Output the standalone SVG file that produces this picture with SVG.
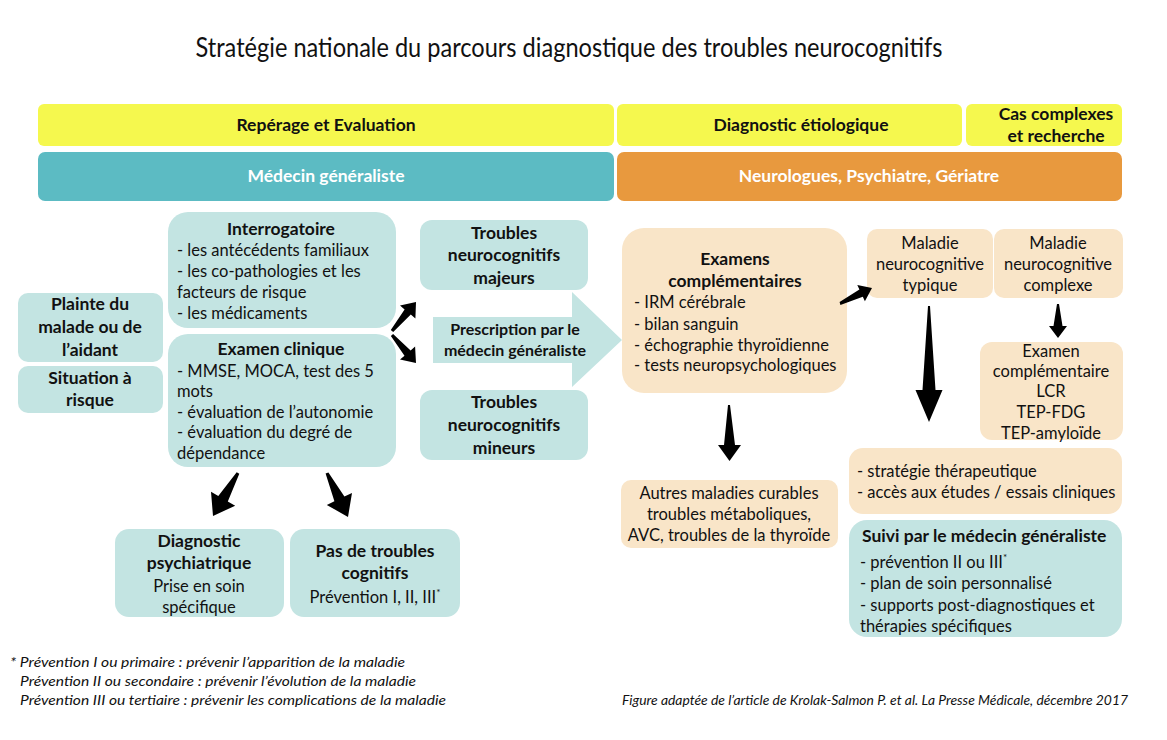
<svg xmlns="http://www.w3.org/2000/svg" width="1167" height="740" viewBox="0 0 1167 740">
<style>
.yl{fill:#f5f84e}
.tl{fill:#5cbbc3}
.or{fill:#e8993e}
.lt{fill:#c3e4e2}
.pe{fill:#f9e5c8}
text{font-family:Lato,"Open Sans","DejaVu Sans",sans-serif;fill:#111}
.b{font-weight:bold;font-size:17.5px}
.r{font-size:16.5px}
.c{text-anchor:middle}
.w{fill:#ffffff;font-weight:bold;font-size:17.5px;text-anchor:middle}
.ft{font-style:italic;font-size:13px}
.arr{fill:#000}
</style>
<rect width="1167" height="740" fill="#ffffff"/>
<text x="569" y="57" font-size="26" text-anchor="middle" textLength="747" lengthAdjust="spacingAndGlyphs">Stratégie nationale du parcours diagnostique des troubles neurocognitifs</text>

<g id="hdr-reperage"><rect class="yl" x="38" y="104" width="576" height="42" rx="6"/><text class="b c" x="326" y="131">Repérage et Evaluation</text></g>
<g id="hdr-diag"><rect class="yl" x="617" y="104" width="345" height="42" rx="6"/><text class="b c" x="801" y="131">Diagnostic étiologique</text></g>
<g id="hdr-cas"><rect class="yl" x="966" y="104" width="156" height="42" rx="6"/><text class="b c" x="1056" y="120">Cas complexes</text><text class="b c" x="1056" y="142">et recherche</text></g>
<g id="hdr-mg"><rect class="tl" x="38" y="152" width="576" height="49" rx="7"/><text class="w" x="326" y="182">Médecin généraliste</text></g>
<g id="hdr-neuro"><rect class="or" x="617" y="152" width="505" height="49" rx="7"/><text class="w" x="869" y="182">Neurologues, Psychiatre, Gériatre</text></g>

<g id="plainte"><rect class="lt" x="18" y="293" width="145" height="69" rx="10"/><text class="b c" x="90" y="310">Plainte du</text><text class="b c" x="90" y="333">malade ou de</text><text class="b c" x="90" y="356">l’aidant</text></g>
<g id="situation"><rect class="lt" x="18" y="366" width="145" height="47" rx="10"/><text class="b c" x="90" y="384">Situation à</text><text class="b c" x="90" y="406">risque</text></g>

<g id="interrogatoire"><rect class="lt" x="168" y="212" width="228" height="116" rx="20"/><text class="b c" x="281" y="235">Interrogatoire</text><text class="r" x="177" y="256">- les antécédents familiaux</text><text class="r" x="177" y="277">- les co-pathologies et les</text><text class="r" x="177" y="298">facteurs de risque</text><text class="r" x="177" y="319">- les médicaments</text></g>
<g id="examen-clinique"><rect class="lt" x="168" y="334" width="228" height="133" rx="20"/><text class="b c" x="281" y="355">Examen clinique</text><text class="r" x="177" y="377">- MMSE, MOCA, test des 5</text><text class="r" x="177" y="397">mots</text><text class="r" x="177" y="418">- évaluation de l’autonomie</text><text class="r" x="177" y="438">- évaluation du degré de</text><text class="r" x="177" y="459">dépendance</text></g>

<g id="tnc-majeurs"><rect class="lt" x="420" y="220" width="168" height="70" rx="12"/><text class="b c" x="504" y="239">Troubles</text><text class="b c" x="504" y="261">neurocognitifs</text><text class="b c" x="504" y="284">majeurs</text></g>
<g id="prescription"><path class="lt" d="M433,317 L572,317 L572,292 L622,340 L572,387 L572,363 L433,363 Z"/><text class="b c" x="515" y="335" style="font-size:16px">Prescription par le</text><text class="b c" x="515" y="356" style="font-size:16px">médecin généraliste</text></g>
<g id="tnc-mineurs"><rect class="lt" x="420" y="390" width="168" height="70" rx="12"/><text class="b c" x="504" y="408">Troubles</text><text class="b c" x="504" y="431">neurocognitifs</text><text class="b c" x="504" y="454">mineurs</text></g>

<g id="examens"><rect class="pe" x="622" y="228" width="225" height="165" rx="22"/><text class="b c" x="735" y="265">Examens</text><text class="b c" x="735" y="287">complémentaires</text><text class="r" x="634" y="308">- IRM cérébrale</text><text class="r" x="634" y="330">- bilan sanguin</text><text class="r" x="634" y="351">- échographie thyroïdienne</text><text class="r" x="634" y="371">- tests neuropsychologiques</text></g>

<g id="typique"><rect class="pe" x="867" y="229" width="126" height="69" rx="10"/><text class="r c" x="930" y="249">Maladie</text><text class="r c" x="930" y="270">neurocognitive</text><text class="r c" x="930" y="291">typique</text></g>
<g id="complexe"><rect class="pe" x="994" y="229" width="129" height="69" rx="10"/><text class="r c" x="1058" y="249">Maladie</text><text class="r c" x="1058" y="270">neurocognitive</text><text class="r c" x="1058" y="291">complexe</text></g>
<g id="examen-comp"><rect class="pe" x="980" y="342" width="143" height="98" rx="12"/><text class="r c" x="1051" y="357">Examen</text><text class="r c" x="1051" y="377">complémentaire</text><text class="r c" x="1051" y="397">LCR</text><text class="r c" x="1051" y="418">TEP-FDG</text><text class="r c" x="1051" y="439">TEP-amyloïde</text></g>

<g id="autres"><rect class="pe" x="621" y="480" width="217" height="68" rx="10"/><text class="r c" x="729" y="499">Autres maladies curables</text><text class="r c" x="729" y="520">troubles métaboliques,</text><text class="r c" x="729" y="541">AVC, troubles de la thyroïde</text></g>
<g id="strategie"><rect class="pe" x="849" y="448" width="273" height="66" rx="14"/><text class="r" x="857" y="477">- stratégie thérapeutique</text><text class="r" x="857" y="498">- accès aux études / essais cliniques</text></g>
<g id="suivi"><rect class="lt" x="849" y="520" width="273" height="117" rx="18"/><text class="b" x="862" y="542">Suivi par le médecin généraliste</text><text class="r" x="860" y="568">- prévention II ou III<tspan dy="-7" font-size="10">*</tspan></text><text class="r" x="860" y="589">- plan de soin personnalisé</text><text class="r" x="860" y="611">- supports post-diagnostiques et</text><text class="r" x="860" y="632">thérapies spécifiques</text></g>

<g id="diag-psy"><rect class="lt" x="115" y="529" width="169" height="88" rx="14"/><text class="b c" x="199" y="547">Diagnostic</text><text class="b c" x="199" y="569">psychiatrique</text><text class="r c" x="199" y="592">Prise en soin</text><text class="r c" x="199" y="613">spécifique</text></g>
<g id="pas-troubles"><rect class="lt" x="290" y="529" width="170" height="88" rx="14"/><text class="b c" x="375" y="557">Pas de troubles</text><text class="b c" x="375" y="579">cognitifs</text><text class="r c" x="375" y="603">Prévention I, II, III<tspan dy="-7" font-size="10">*</tspan></text></g>

<g id="connectors">
<path class="arr" d="M393.2,332 L410.8,314.6 L415.4,318.4 L416,302 L400,305.6 L404.6,309.4 L390.8,330 Z"/>
<path class="arr" d="M393.1,334 L410.6,350.5 L415.1,346.6 L416,363 L400,359.6 L404.5,355.7 L390.9,336 Z"/>
<path class="arr" d="M239.3,473.8 L227.8,501.5 L235.2,505.7 L213,516 L211,491.7 L218.3,495.9 L236.7,472.2 Z"/>
<path class="arr" d="M328.4,472.4 L344.4,496.6 L352,492.9 L348,517 L326.8,504.9 L334.4,501.3 L325.6,473.6 Z"/>
<path class="arr" d="M840.4,304.9 L862.8,296.7 L864.9,301.3 L872,288 L857.3,284.9 L859.4,289.5 L839.6,302.1 Z"/>
<path class="arr" d="M928,306 L930,306 L935.5,390 L942.5,390 L929,422 L915.5,390 L922.5,390 Z"/>
<path class="arr" d="M728,405 L730,405 L735,445 L741,445 L729.5,461 L718,445 L724,445 Z"/>
<path class="arr" d="M1057,304 L1059,304 L1062.5,326 L1067,326 L1058,338 L1049,326 L1053.5,326 Z"/>
</g>

<g id="footer">
<text class="ft" x="10" y="667" textLength="395" lengthAdjust="spacingAndGlyphs">* Prévention I ou primaire : prévenir l’apparition de la maladie</text>
<text class="ft" x="20" y="686" textLength="396" lengthAdjust="spacingAndGlyphs">Prévention II ou secondaire : prévenir l’évolution de la maladie</text>
<text class="ft" x="20" y="705" textLength="426" lengthAdjust="spacingAndGlyphs">Prévention III ou tertiaire : prévenir les complications de la maladie</text>
<text class="ft" x="622" y="705" textLength="506" lengthAdjust="spacingAndGlyphs">Figure adaptée de l’article de Krolak-Salmon P. et al. La Presse Médicale, décembre 2017</text>
</g>
</svg>
